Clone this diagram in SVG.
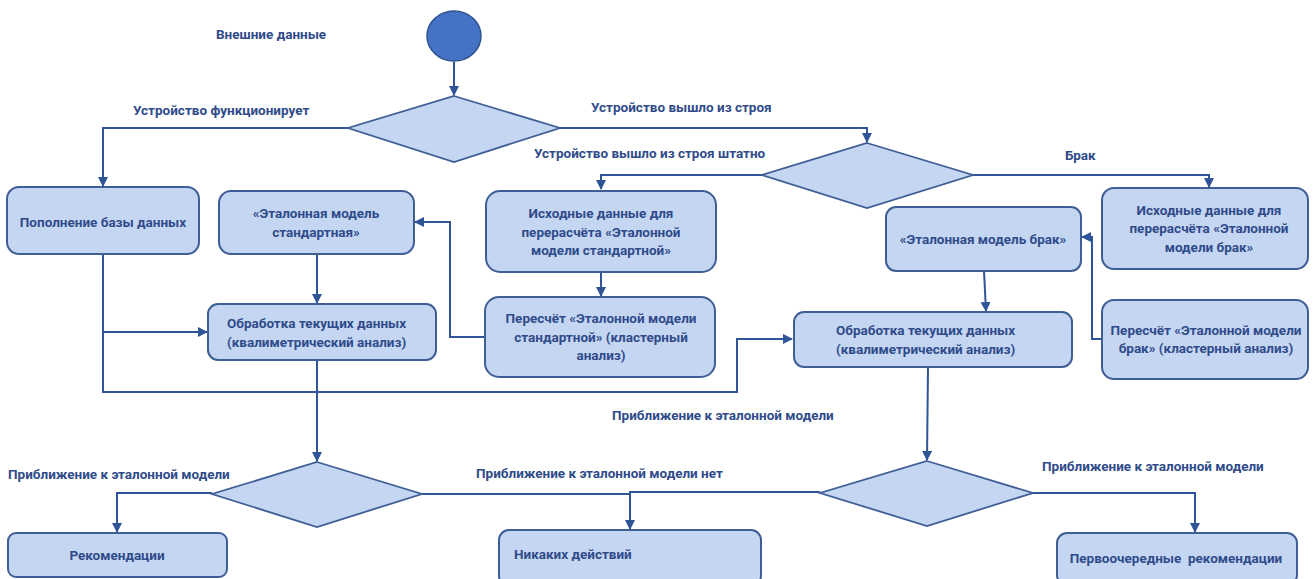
<svg xmlns="http://www.w3.org/2000/svg" width="1314" height="579" viewBox="0 0 1314 579">
<defs>
<style>
.box{fill:#C5D6F2;stroke:#3F5E96;stroke-width:2}
.dia{fill:#C5D6F2;stroke:#3F5E96;stroke-width:1.8}
.ln{fill:none;stroke:#2F5597;stroke-width:2}
.t{font-family:Roboto,"Liberation Sans",sans-serif;font-weight:bold;font-size:13.5px;fill:#2F4B8A;white-space:pre}
.c{text-anchor:middle}
</style>
<marker id="arr" viewBox="0 0 10 10" refX="9" refY="5" markerWidth="10" markerHeight="10" markerUnits="userSpaceOnUse" orient="auto">
<path d="M0,0 L10,5 L0,10 z" fill="#2F5597"/>
</marker>
</defs>
<rect width="1314" height="579" fill="#FFFFFF"/>

<g id="connectors">
<path class="ln" d="M454,62 V95" marker-end="url(#arr)"/>
<path class="ln" d="M348,128 H103 V186" marker-end="url(#arr)"/>
<path class="ln" d="M560,128 H867 V142" marker-end="url(#arr)"/>
<path class="ln" d="M762,175 H601 V189" marker-end="url(#arr)"/>
<path class="ln" d="M973,175 H1209 V187" marker-end="url(#arr)"/>
<path class="ln" d="M103,254 V332 H207" marker-end="url(#arr)"/>
<path class="ln" d="M103,332 V392 H737 V339 H792" marker-end="url(#arr)"/>
<path class="ln" d="M317,254 V303" marker-end="url(#arr)"/>
<path class="ln" d="M601,272 V296" marker-end="url(#arr)"/>
<path class="ln" d="M485,337 H450 V222 H415" marker-end="url(#arr)"/>
<path class="ln" d="M317,360 V461" marker-end="url(#arr)"/>
<path class="ln" d="M212,493 H117 V532" marker-end="url(#arr)"/>
<path class="ln" d="M422,494 H630"/>
<path class="ln" d="M820,492 H630 V529" marker-end="url(#arr)"/>
<path class="ln" d="M984,271 L986,311" marker-end="url(#arr)"/>
<path class="ln" d="M1102,339 H1092 V237 H1082" marker-end="url(#arr)"/>
<path class="ln" d="M928,367 L927,460" marker-end="url(#arr)"/>
<path class="ln" d="M1033,493 H1195 V532" marker-end="url(#arr)"/>
</g>

<g id="start">
<ellipse cx="454" cy="36" rx="27" ry="25" fill="#4472C4" stroke="#2F528F" stroke-width="1.5"/>
</g>

<g id="decision1"><polygon class="dia" points="454,96 560,128 454,162 348,128"/></g>
<g id="decision2"><polygon class="dia" points="867,143 973,175 867,208 762,175"/></g>
<g id="decision3"><polygon class="dia" points="317,462 422,494 317,527 212,494"/></g>
<g id="decision4"><polygon class="dia" points="927,461 1033,493 927,526 820,493"/></g>

<g id="n_popolnenie">
<rect class="box" x="7" y="187" width="192" height="67" rx="12"/>
<text class="t c" x="103" y="227">Пополнение базы данных</text>
</g>
<g id="n_etalon_std">
<rect class="box" x="219" y="191" width="195" height="63" rx="12"/>
<text class="t c" x="316" y="218">«Эталонная модель</text>
<text class="t c" x="316" y="237">стандартная»</text>
</g>
<g id="n_obrabotka_left">
<rect class="box" x="208" y="304" width="228" height="56" rx="10"/>
<text class="t" x="227" y="328">Обработка текущих данных</text>
<text class="t" x="227" y="347">(квалиметрический анализ)</text>
</g>
<g id="n_ishodnye_std">
<rect class="box" x="486" y="191" width="230" height="81" rx="14"/>
<text class="t c" x="601" y="218">Исходные данные для</text>
<text class="t c" x="601" y="237">перерасчёта «Эталонной</text>
<text class="t c" x="601" y="255">модели стандартной»</text>
</g>
<g id="n_pereschet_std">
<rect class="box" x="485" y="297" width="230" height="80" rx="14"/>
<text class="t c" x="601" y="323">Пересчёт «Эталонной модели</text>
<text class="t c" x="601" y="342">стандартной» (кластерный</text>
<text class="t c" x="601" y="360">анализ)</text>
</g>
<g id="n_etalon_brak">
<rect class="box" x="886" y="207" width="195" height="64" rx="10"/>
<text class="t c" x="983" y="244">«Эталонная модель брак»</text>
</g>
<g id="n_ishodnye_brak">
<rect class="box" x="1102" y="188" width="206" height="81" rx="12"/>
<text class="t c" x="1209" y="215">Исходные данные для</text>
<text class="t c" x="1209" y="233">перерасчёта «Эталонной</text>
<text class="t c" x="1209" y="252">модели брак»</text>
</g>
<g id="n_obrabotka_right">
<rect class="box" x="794" y="312" width="278" height="55" rx="10"/>
<text class="t" x="836" y="335">Обработка текущих данных</text>
<text class="t" x="836" y="354">(квалиметрический анализ)</text>
</g>
<g id="n_pereschet_brak">
<rect class="box" x="1102" y="300" width="206" height="79" rx="12"/>
<text class="t c" x="1206" y="335">Пересчёт «Эталонной модели</text>
<text class="t c" x="1206" y="353">брак» (кластерный анализ)</text>
</g>
<g id="n_rekomendacii">
<rect class="box" x="8" y="533" width="219" height="44" rx="8"/>
<text class="t c" x="117" y="560">Рекомендации</text>
</g>
<g id="n_nikakih">
<rect class="box" x="499" y="530" width="262" height="56" rx="10"/>
<text class="t" x="514" y="559">Никаких действий</text>
</g>
<g id="n_pervoocherednye">
<rect class="box" x="1057" y="533" width="240" height="52" rx="10"/>
<text class="t c" x="1176" y="563">Первоочередные  рекомендации</text>
</g>

<g id="labels">
<text class="t" x="216" y="39">Внешние данные</text>
<text class="t" x="133" y="115">Устройство функционирует</text>
<text class="t" x="591" y="112">Устройство вышло из строя</text>
<text class="t" x="534" y="158">Устройство вышло из строя штатно</text>
<text class="t" x="1065" y="160">Брак</text>
<text class="t" x="612" y="420">Приближение к эталонной модели</text>
<text class="t" x="8" y="479">Приближение к эталонной модели</text>
<text class="t" x="476" y="478">Приближение к эталонной модели нет</text>
<text class="t" x="1042" y="471">Приближение к эталонной модели</text>
</g>
</svg>
